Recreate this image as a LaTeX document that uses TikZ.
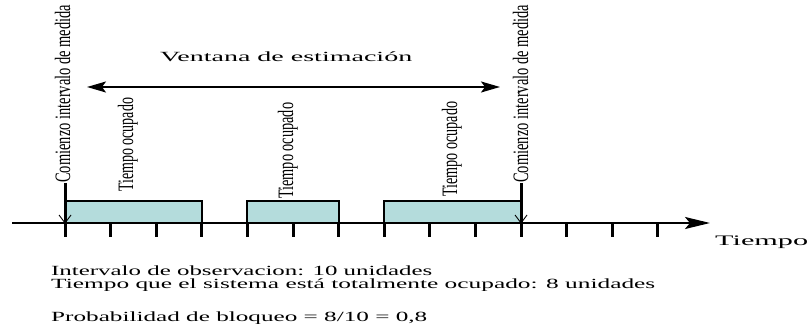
\documentclass[tikz,border=0pt]{standalone}
\usepackage{fontspec}
\setmainfont{Liberation Serif}
\usetikzlibrary{arrows.meta,calc}
\definecolor{busyfill}{RGB}{180,220,220}
\newcommand\wtext[3]{\resizebox{#1pt}{\height}{\fontsize{#2}{#2}\selectfont #3}}
\tikzset{
  vlab/.style={rotate=90, inner sep=0pt, anchor=base west},
  hlab/.style={inner sep=0pt, anchor=base west},
  busy/.style={draw=black, line width=2pt, fill=busyfill},
  axisline/.style={line width=2pt, -{Stealth[length=25pt,width=12pt,inset=5pt]}},
  winarrow/.style={line width=2pt, {Stealth[length=19pt,width=11pt,inset=4pt]}-{Stealth[length=19pt,width=11pt,inset=4pt]}},
  tickmark/.style={line width=3pt},
  startline/.style={line width=3pt},
  vee/.style={line width=0.9pt}
}
\begin{document}
\begin{tikzpicture}[x=1pt,y=-1pt]
\useasboundingbox (0,0) rectangle (809,334);
% busy boxes
\draw[busy] (65,201) rectangle (201.8,223);
\draw[busy] (247.4,201) rectangle (338.6,223);
\draw[busy] (384.2,201) rectangle (521,223);
% time axis
\coordinate (ax0) at (12,223);
\coordinate (ax1) at (710,223);
\draw[axisline] (ax0) -- (ax1);
\foreach \k in {0,...,13}{
  \draw[tickmark] ({65+45.6*\k},223) -- ({65+45.6*\k},237);
}
% start lines
\coordinate (s1top) at (65,183);
\coordinate (s1ax) at (65,223);
\coordinate (s1bot) at (65,237);
\coordinate (s2top) at (521,183);
\coordinate (s2ax) at (521,223);
\coordinate (s2bot) at (521,237);
\draw[startline] (s1top) -- (s1bot);
\draw[startline] (s2top) -- (s2bot);
\draw[vee] ($(s1ax)+(-6,-8)$) -- (s1ax) -- ($(s1ax)+(6,-8)$);
\draw[vee] ($(s2ax)+(-6,-8)$) -- (s2ax) -- ($(s2ax)+(6,-8)$);
% vertical labels
\node[vlab] (c1) at (70,183) {\wtext{178}{22}{Comienzo intervalo de medida}};
\node[vlab] (c2) at (528,183) {\wtext{178}{22}{Comienzo intervalo de medida}};
\node[vlab] (t1) at (133,192) {\wtext{94}{22}{Tiempo ocupado}};
\node[vlab] (t2) at (293,199) {\wtext{96}{22}{Tiempo ocupado}};
\node[vlab] (t3) at (457,197) {\wtext{95}{22}{Tiempo ocupado}};
% window arrow
\coordinate (wl) at (87,87);
\coordinate (wr) at (500,87);
\draw[winarrow] (wl) -- (wr);
\node[hlab] (ven) at (160,62) {\wtext{252}{14}{Ventana de estimación}};
\node[hlab] (tiempo) at (715,245) {\wtext{93}{14.5}{Tiempo}};
% bottom text
\node[hlab] (l1) at (51,275) {\wtext{381}{14}{Intervalo de observacion: 10 unidades}};
\node[hlab] (l2) at (51,288) {\wtext{604}{14}{Tiempo que el sistema está totalmente ocupado: 8 unidades}};
\node[hlab] (l3) at (51,321) {\wtext{376}{14}{Probabilidad de bloqueo = 8/10 = 0,8}};
\end{tikzpicture}
\end{document}
